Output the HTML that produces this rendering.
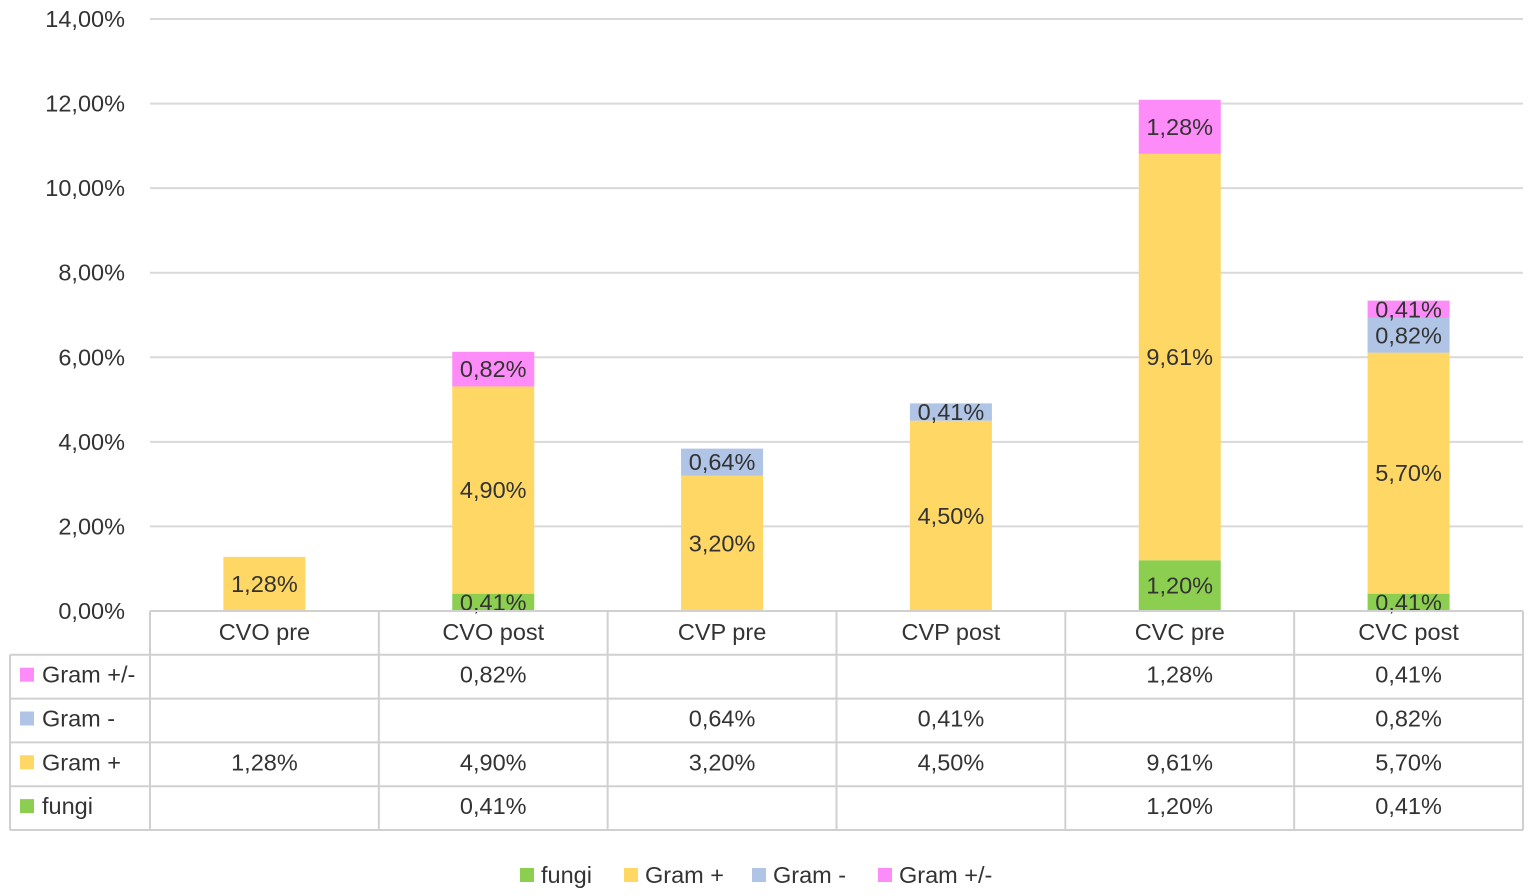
<!DOCTYPE html>
<html><head><meta charset="utf-8">
<style>
html,body{margin:0;padding:0;background:#fff;}
svg{display:block;font-family:"Liberation Sans",sans-serif;}
</style></head>
<body>
<svg id="chart" width="1535" height="896"></svg>
<script>
const categories=["CVO pre","CVO post","CVP pre","CVP post","CVC pre","CVC post"];
const seriesNames=["fungi","Gram +","Gram -","Gram +/-"];
const seriesColors=["#8ccf50","#fed765","#b0c4e6","#fd8cf8"];
const fungi=[0,0.41,0,0,1.20,0.41];
const gramPos=[1.28,4.90,3.20,4.50,9.61,5.70];
const gramNeg=[0,0,0.64,0.41,0,0.82];
const gramPM=[0,0.82,0,0,1.28,0.41];
const yTicks=[0,2,4,6,8,10,12,14];
const series=[fungi,gramPos,gramNeg,gramPM];

const NS="http://www.w3.org/2000/svg";
const svg=document.getElementById('chart');
function el(tag,attrs,parent){const e=document.createElementNS(NS,tag);for(const k in attrs)e.setAttribute(k,attrs[k]);(parent||svg).appendChild(e);return e;}
const plotL=150,plotR=1523,y0=611,yTop=19,yMax=14;
const bandW=(plotR-plotL)/categories.length,barW=82;
function y(v){return y0-(v/yMax)*(y0-yTop);}
function xc(i){return plotL+bandW*(i+0.5);}
function fmt(v){return v.toFixed(2).replace('.',',')+'%';}
const txt='#333';
const FS=23.5;

yTicks.forEach(t=>{
  const g=el('line',{x1:plotL,x2:plotR,y1:y(t),y2:y(t),stroke:'#d9d9d9','stroke-width':2});
  
  
  const l=el('text',{x:125,y:y(t)+8,'text-anchor':'end','font-size':FS,fill:txt});
  l.textContent=fmt(t);
  
  
});

categories.forEach((c,i)=>{
  let base=0;
  series.forEach((s,k)=>{
    const v=s[i]; if(!v) return;
    const r=el('rect',{x:xc(i)-barW/2,y:y(base+v),width:barW,height:y(base)-y(base+v),fill:seriesColors[k]});
    
    
    const t=el('text',{x:xc(i),y:(y(base)+y(base+v))/2+8,'text-anchor':'middle','font-size':FS,fill:txt});
    t.textContent=fmt(v);
    
    
    base+=v;
  });
});

const rowH=43.8,tabTop=611,gc='#d0d0d0';
const rows=[[gramPM,3],[gramNeg,2],[gramPos,1],[fungi,0]];
for(let r=0;r<=5;r++){
  const yy=tabTop+r*rowH;
  const x1=r===0?plotL:10;
  const ln=el('line',{x1:x1,x2:plotR,y1:yy,y2:yy,stroke:gc,'stroke-width':2});
  
  
}
for(let i=0;i<=categories.length;i++){
  const xx=plotL+bandW*i;
  const ln=el('line',{x1:xx,x2:xx,y1:tabTop,y2:tabTop+5*rowH,stroke:gc,'stroke-width':2});
  
  
}
const lb=el('line',{x1:10,x2:10,y1:tabTop+rowH,y2:tabTop+5*rowH,stroke:gc,'stroke-width':2});


categories.forEach((c,i)=>{
  const t=el('text',{x:xc(i),y:tabTop+rowH/2+7,'text-anchor':'middle','font-size':FS,fill:txt});
  t.textContent=c;
  
  
});
rows.forEach(([s,k],r)=>{
  const yy=tabTop+(r+1)*rowH+rowH/2;
  const m=el('rect',{x:20,y:yy-9,width:14,height:14,fill:seriesColors[k]});
  
  
  const n=el('text',{x:42,y:yy+6,'font-size':FS,fill:txt});
  n.textContent=seriesNames[k];
  
  
  s.forEach((v,i)=>{ if(!v) return;
    const t=el('text',{x:xc(i),y:yy+6,'text-anchor':'middle','font-size':FS,fill:txt});
    t.textContent=fmt(v);
    
    
  });
});

const legX=[520,624,752,878];
seriesNames.forEach((n,k)=>{
  const m=el('rect',{x:legX[k],y:868,width:14,height:14,fill:seriesColors[k]});
  
  
  const t=el('text',{x:legX[k]+21,y:883,'font-size':FS,fill:txt});
  t.textContent=n;
  
  
});
</script>
</body></html>
